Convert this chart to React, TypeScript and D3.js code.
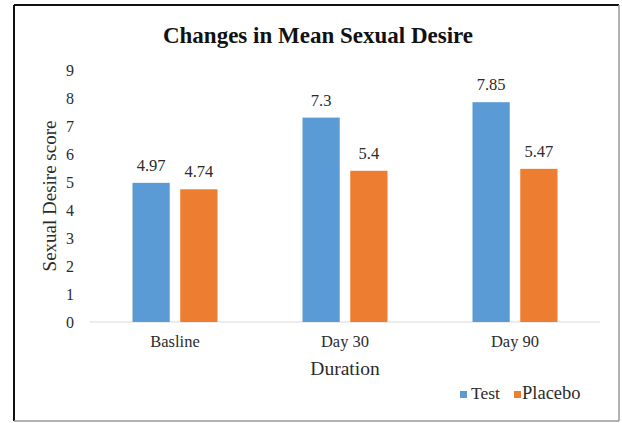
import React from "react";
import * as d3 from "d3";

const categories = ["Basline", "Day 30", "Day 90"];
const seriesNames = ["Test", "Placebo"];
const testValues = [4.97, 7.3, 7.85];
const placeboValues = [4.74, 5.4, 5.47];
const valueLabels = [["4.97", "4.74"], ["7.3", "5.4"], ["7.85", "5.47"]];
const yTicks = [0, 1, 2, 3, 4, 5, 6, 7, 8, 9];
const colors = ["#5B9BD5", "#ED7D31"];

const W = 622;
const H = 423;
const plot = { left: 90, right: 600, top: 70, bottom: 322 };
const font = "'Liberation Serif', 'Times New Roman', Times, serif";

export default function App() {
  const x0 = d3
    .scaleBand<string>()
    .domain(categories)
    .range([plot.left, plot.right])
    .paddingInner(0.5)
    .paddingOuter(0.25);
  const x1 = d3
    .scaleBand<string>()
    .domain(seriesNames)
    .range([0, x0.bandwidth()])
    .paddingInner(0.22)
    .paddingOuter(0);
  const y = d3.scaleLinear().domain([0, 9]).range([plot.bottom, plot.top]);
  const series = [testValues, placeboValues];
  const txt = "#2b2b2b";

  return (
    <svg
      width={W}
      height={H}
      style={{ position: "absolute", left: 0, top: 0, background: "#fff", fontFamily: font }}
    >
      <rect x={0} y={0} width={W} height={H} fill="#fff" />
      {/* frame */}
      <line x1={14} y1={5} x2={619} y2={5} stroke="#111" strokeWidth={2} />
      <line x1={14} y1={5} x2={14} y2={421} stroke="#111" strokeWidth={2} />
      <line x1={619} y1={5} x2={619} y2={421} stroke="#999" strokeWidth={1.5} />
      <line x1={14} y1={421} x2={619} y2={421} stroke="#999" strokeWidth={1.5} />

      <text x={318} y={43} textAnchor="middle" fontSize={23} fontWeight="bold" fill="#111">
        Changes in Mean Sexual Desire
      </text>

      {yTicks.map((t) => (
        <text key={t} x={74} y={y(t)} dy="0.35em" textAnchor="end" fontSize={16} fill={txt}>
          {t}
        </text>
      ))}

      <line
        x1={plot.left}
        x2={plot.right}
        y1={y(0)}
        y2={y(0)}
        stroke="#d9d9d9"
        strokeWidth={1}
      />

      {categories.map((c, ci) => (
        <g key={c}>
          {seriesNames.map((s, si) => {
            const v = series[si][ci];
            const bx = (x0(c) ?? 0) + (x1(s) ?? 0);
            return (
              <g key={s}>
                <rect
                  x={bx}
                  y={y(v)}
                  width={x1.bandwidth()}
                  height={y(0) - y(v)}
                  fill={colors[si]}
                />
                <text
                  x={bx + x1.bandwidth() / 2}
                  y={y(v) - 12}
                  textAnchor="middle"
                  fontSize={16.5}
                  fill={txt}
                >
                  {valueLabels[ci][si]}
                </text>
              </g>
            );
          })}
          <text
            x={(x0(c) ?? 0) + x0.bandwidth() / 2}
            y={347}
            textAnchor="middle"
            fontSize={16.5}
            fill={txt}
          >
            {c}
          </text>
        </g>
      ))}

      <text x={345} y={375} textAnchor="middle" fontSize={19.5} fill={txt}>
        Duration
      </text>

      <text
        transform={`translate(56, ${(plot.top + plot.bottom) / 2}) rotate(-90)`}
        textAnchor="middle"
        fontSize={19}
        fill={txt}
      >
        Sexual Desire score
      </text>

      {/* legend */}
      <rect x={460} y={391} width={7} height={7} fill={colors[0]} />
      <text x={471} y={399} fontSize={17.5} fill={txt}>
        Test
      </text>
      <rect x={514} y={391} width={7} height={7} fill={colors[1]} />
      <text x={522} y={399} fontSize={18.5} fill={txt}>
        Placebo
      </text>
    </svg>
  );
}
